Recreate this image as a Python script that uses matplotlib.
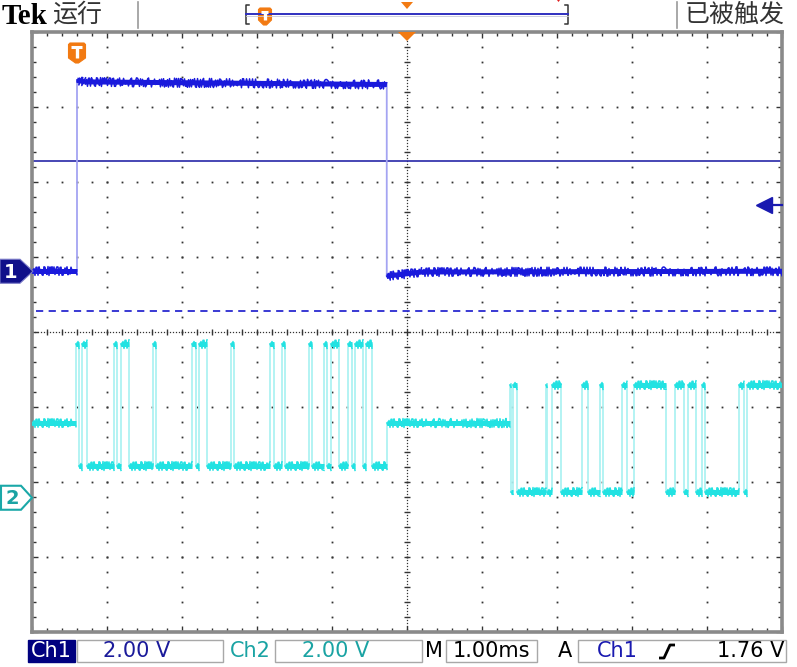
import numpy as np
import matplotlib
matplotlib.use("Agg")
import matplotlib.pyplot as plt
from matplotlib.patches import Polygon, Rectangle

# ---------------- data ----------------
time_per_div_ms = 1.0
ch1_volts_per_div = 2.0
ch2_volts_per_div = 2.0
ch1_offset_div = 0.81
ch2_offset_div = -2.21
trigger_level_V = 1.76

# Ch1: piecewise trace (time in ms, volts)
ch1_t_ms = [-5.0, -4.40, -4.40, -4.30, -0.27, -0.27, 0.20, 5.0]
ch1_v = [0.0, 0.0, 5.10, 5.05, 4.98, -0.13, -0.02, 0.0]
ch1_ref_solid_V = 2.93
ch1_ref_dashed_V = -1.07

# Ch2: idle level and two bursts of alternating edges (first edge goes high)
ch2_idle_V = 2.0
ch2_burst1_high_V = 4.1
ch2_burst1_low_V = 0.85
ch2_burst2_high_V = 3.0
ch2_burst2_low_V = 0.15
ch2_burst1_edges_ms = [-4.41, -4.37, -4.33, -4.27, -3.91, -3.86, -3.81, -3.70,
                       -3.39, -3.34, -2.87, -2.81, -2.77, -2.66, -2.34, -2.30,
                       -1.83, -1.77, -1.67, -1.62, -1.31, -1.26, -1.11, -1.06,
                       -1.01, -0.90, -0.79, -0.73, -0.69, -0.59, -0.54, -0.47]
ch2_burst1_end_ms = -0.27
ch2_burst2_edges_ms = [1.37, 1.39, 1.42, 1.47, 1.85, 1.87, 1.94, 2.06, 2.34,
                       2.41, 2.57, 2.62, 2.87, 2.93, 3.03, 3.45, 3.57, 3.70,
                       3.75, 3.86, 3.93, 3.97, 4.43, 4.49, 4.54]

status_left = "运行"
status_right = "已被触发"
ch1_scale_label = "2.00 V"
ch2_scale_label = "2.00 V"
timebase_label = "1.00ms"
trigger_label = "1.76 V"

# ---------------- figure ----------------
W, H = 797, 667
fig = plt.figure(figsize=(W / 100, H / 100), dpi=100)
fig.patch.set_facecolor("white")

GL, GR, GT, GB = 32, 782, 32, 632
ax = fig.add_axes([GL / W, 1 - GB / H, (GR - GL) / W, (GB - GT) / H])
ax.set_xlim(-5, 5)
ax.set_ylim(-4, 4)
ax.set_facecolor("white")

# graticule
dotc = "#333333"
xm = np.arange(-5, 5.001, 0.2)
ym = np.arange(-4, 4.001, 0.2)
for xv in range(-4, 5):
    if xv != 0:
        ax.plot(np.full_like(ym, xv), ym, ls="none", marker="s", ms=1.3, mew=0, color=dotc, zorder=1)
for yv in range(-3, 4):
    if yv != 0:
        ax.plot(xm, np.full_like(xm, yv), ls="none", marker="s", ms=1.3, mew=0, color=dotc, zorder=1)
dx = np.arange(-5, 5.001, 0.04)
dy = np.arange(-4, 4.001, 0.04)
ax.plot(dx, np.zeros_like(dx), ls="none", marker="s", ms=0.9, mew=0, color=dotc, zorder=1)
ax.plot(np.zeros_like(dy), dy, ls="none", marker="s", ms=0.9, mew=0, color=dotc, zorder=1)
ax.plot(xm, np.zeros_like(xm), ls="none", marker="|", ms=4.5, mew=1.0, color=dotc, zorder=1)
ax.plot(np.zeros_like(ym), ym, ls="none", marker="_", ms=4.5, mew=1.0, color=dotc, zorder=1)

ax.set_xticks(np.arange(-5, 5.01, 1))
ax.set_yticks(np.arange(-4, 4.01, 1))
ax.set_xticks(xm, minor=True)
ax.set_yticks(ym, minor=True)
ax.tick_params(which="both", direction="in", top=True, right=True, bottom=True, left=True,
               labelbottom=False, labelleft=False, color="#333333", width=1.0)
ax.tick_params(which="major", length=4)
ax.tick_params(which="minor", length=3)
for s in ax.spines.values():
    s.set_color("#8a8a8a")
    s.set_linewidth(2.6)


def ch1_div(v):
    return np.asarray(v) / ch1_volts_per_div + ch1_offset_div


def ch2_div(v):
    return np.asarray(v) / ch2_volts_per_div + ch2_offset_div


ch1_col, ch1_edge = "#1a1adc", "#a4a4f2"
ch2_col, ch2_edge = "#22e2e2", "#aef2f2"


def noisy_flat(xs, ys, col):
    ax.plot(xs, ys, color=col, lw=3.6, zorder=4, solid_capstyle="butt")
    ln, = ax.plot(xs, ys, color=col, lw=1.1, zorder=4)
    ln.set_sketch_params(scale=4.5, length=1.2, randomness=2)


# reference lines for ch1
ax.axhline(ch1_div(ch1_ref_solid_V), color="#2828a8", lw=1.2, zorder=2)
ax.plot([-4.95, 5], [ch1_div(ch1_ref_dashed_V)] * 2, color="#2a2ad0", lw=1.3,
        ls=(0, (4, 3)), zorder=2)

# Ch1 trace
t1 = np.asarray(ch1_t_ms) / time_per_div_ms
y1 = ch1_div(ch1_v)
ax.plot(t1, y1, color=ch1_edge, lw=1.3, zorder=3)
for i in range(len(t1) - 1):
    if t1[i + 1] > t1[i]:
        noisy_flat(t1[i:i + 2], y1[i:i + 2], ch1_col)

# Ch2 segments
segs = [(-5.0, ch2_burst1_edges_ms[0], ch2_idle_V)]
for i, t in enumerate(ch2_burst1_edges_ms):
    tn = ch2_burst1_edges_ms[i + 1] if i + 1 < len(ch2_burst1_edges_ms) else ch2_burst1_end_ms
    segs.append((t, tn, ch2_burst1_high_V if i % 2 == 0 else ch2_burst1_low_V))
segs.append((ch2_burst1_end_ms, ch2_burst2_edges_ms[0], ch2_idle_V))
for i, t in enumerate(ch2_burst2_edges_ms):
    tn = ch2_burst2_edges_ms[i + 1] if i + 1 < len(ch2_burst2_edges_ms) else 5.0
    segs.append((t, tn, ch2_burst2_high_V if i % 2 == 0 else ch2_burst2_low_V))

tt, vv = [], []
for a, b, v in segs:
    tt += [a, b]
    vv += [v, v]
ax.plot(np.asarray(tt) / time_per_div_ms, ch2_div(vv), color=ch2_edge, lw=1.3, zorder=3)
for a, b, v in segs:
    xs = np.array([a, b]) / time_per_div_ms
    noisy_flat(xs, ch2_div([v, v]), ch2_col)

# trigger level arrow at right edge
trig_div = float(ch1_div(trigger_level_V))
ax.plot([4.76], [trig_div], marker="<", ms=11, color="#1a1ab0", ls="none", clip_on=False, zorder=6)
ax.plot([4.8, 5.0], [trig_div, trig_div], color="#1a1ab0", lw=1.6, clip_on=False, zorder=6)

# ---------------- overlay in pixel coordinates ----------------
ov = fig.add_axes([0, 0, 1, 1], facecolor="none")
ov.set_xlim(0, W)
ov.set_ylim(H, 0)
ov.axis("off")
ov.set_zorder(10)


def ypx(div):
    return H - ax.transData.transform((0, div))[1]


def tpx(t):
    return ax.transData.transform((t, 0))[0]


orange = "#f27a12"


def shield(cx, y0, y1, w):
    pts = [(cx - w, y0 + 1.5), (cx - w + 1.5, y0), (cx + w - 1.5, y0), (cx + w, y0 + 1.5),
           (cx + w, y1 - 5), (cx + 1.5, y1), (cx - 1.5, y1), (cx - w, y1 - 5)]
    ov.add_patch(Polygon(pts, closed=True, fc=orange, ec=orange, lw=0.8))
    ov.plot([cx - w + 3, cx + w - 3], [y0 + 4, y0 + 4], color="white", lw=2.2, solid_capstyle="butt")
    ov.plot([cx, cx], [y0 + 4, y1 - 5], color="white", lw=2.4, solid_capstyle="butt")


# top bar
ov.text(2, 17, "Tek", fontfamily="Liberation Serif", fontweight="bold", fontsize=21,
        va="center", ha="left", color="black")
ov.text(52, 15, status_left, family=["Noto Sans CJK SC", "DejaVu Sans"], fontsize=18,
        va="center", ha="left", color="#333333")
ov.plot([138, 138], [2, 28], color="#9a9a9a", lw=1.2)
ov.plot([677, 677], [2, 28], color="#9a9a9a", lw=1.2)
ov.text(685, 15, status_right, family=["Noto Sans CJK SC", "DejaVu Sans"], fontsize=18,
        va="center", ha="left", color="#333333")
ov.plot([249, 246, 246, 249], [5, 5, 24, 24], color="#333333", lw=1.1)
ov.plot([565, 568, 568, 565], [5, 5, 24, 24], color="#333333", lw=1.1)
ov.plot([246, 568], [14, 14], color="#3030c0", lw=1.4)
ov.plot([246, 568], [16, 16], color="#c8c8d8", lw=0.6)
shield(265, 8, 25, 6.5)
cx0 = tpx(0)
ov.add_patch(Polygon([(cx0 - 6, 2), (cx0 + 6, 2), (cx0, 9)], closed=True, fc=orange, ec="none"))
ov.add_patch(Polygon([(557, 0), (560, 0), (558.5, 2)], closed=True, fc="#e02020", ec="none"))

# trigger point markers on graticule
shield(tpx(ch1_t_ms[1] / time_per_div_ms), 43, 63, 8.5)
ov.add_patch(Polygon([(cx0 - 9, 32), (cx0 + 9, 32), (cx0, 41)], closed=True, fc=orange, ec="none"))

# channel ground markers
y1g = ypx(ch1_offset_div)
ov.add_patch(Polygon([(0, y1g - 12), (20, y1g - 12), (33, y1g), (20, y1g + 12), (0, y1g + 12)],
                     closed=True, fc="#10108a", ec="#7a7ac8", lw=0.8))
ov.text(11, y1g + 1, "1", color="white", fontsize=14, fontweight="bold", ha="center", va="center")
y2g = ypx(ch2_offset_div)
ov.add_patch(Polygon([(1, y2g - 12), (21, y2g - 12), (32, y2g), (21, y2g + 12), (1, y2g + 12)],
                     closed=True, fc="white", ec="#1aa8a8", lw=1.5))
ov.text(12, y2g + 1, "2", color="#1aa3a3", fontsize=14, fontweight="bold", ha="center", va="center")

# bottom bar
by0, bh, byc = 640, 22, 651
fs = 15
ov.add_patch(Rectangle((28, by0), 47, bh, fc="#00007f", ec="#00007f"))
ov.text(51.5, byc, "Ch1", color="white", fontsize=fs, ha="center", va="center")
ov.add_patch(Rectangle((77, by0), 146, bh, fc="white", ec="#a8a8a8", lw=1))
ov.text(103, byc, ch1_scale_label, color="#1a1a9a", fontsize=fs, ha="left", va="center")
ov.text(250, byc, "Ch2", color="#1aa3a3", fontsize=fs, ha="center", va="center")
ov.add_patch(Rectangle((275, by0), 147, bh, fc="white", ec="#a8a8a8", lw=1))
ov.text(302, byc, ch2_scale_label, color="#1aa3a3", fontsize=fs, ha="left", va="center")
ov.text(434, byc, "M", color="black", fontsize=fs, ha="center", va="center")
ov.add_patch(Rectangle((446, by0), 91, bh, fc="white", ec="#a8a8a8", lw=1))
ov.text(491, byc, timebase_label, color="black", fontsize=fs, ha="center", va="center")
ov.text(565, byc, "A", color="black", fontsize=fs, ha="center", va="center")
ov.add_patch(Rectangle((578, by0), 208, bh, fc="white", ec="#a8a8a8", lw=1))
ov.text(597, byc, "Ch1", color="#1a1ab0", fontsize=fs, ha="left", va="center")
ov.plot([659, 664, 670, 675], [658, 658, 645, 645], color="black", lw=2.0, solid_capstyle="butt")
ov.text(784, byc, trigger_label, color="black", fontsize=fs, ha="right", va="center")

fig.savefig("out.png", dpi=100, facecolor="white")
